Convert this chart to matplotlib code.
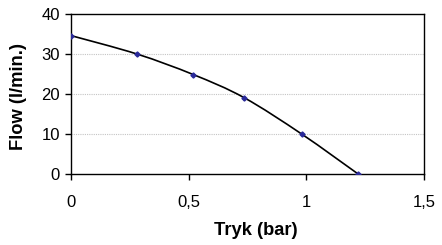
import matplotlib
matplotlib.use("Agg")
import matplotlib.pyplot as plt
import numpy as np
from matplotlib.path import Path
from matplotlib.patches import PathPatch

pressure = [0.0, 0.28, 0.52, 0.735, 0.98, 1.22]
flow = [34.6, 30.0, 24.85, 19.1, 10.0, 0.0]
x_ticks = [0, 0.5, 1, 1.5]
x_tick_labels = ["0", "0,5", "1", "1,5"]
y_ticks = [0, 10, 20, 30, 40]

plt.rcParams['font.family'] = ['Liberation Sans', 'DejaVu Sans']

fig = plt.figure(figsize=(4.42, 2.45), dpi=100)
ax = fig.add_axes([71/442, 1-174/245, (424-71)/442, (174-14)/245])

# smoothed line (Catmull-Rom -> cubic Bezier), like Excel's smoothed line
px = np.array(pressure); py = np.array(flow)
verts = [(px[0], py[0])]
codes = [Path.MOVETO]
n = len(px)
for i in range(n - 1):
    p0 = np.array([px[max(i-1, 0)], py[max(i-1, 0)]])
    p1 = np.array([px[i], py[i]])
    p2 = np.array([px[i+1], py[i+1]])
    p3 = np.array([px[min(i+2, n-1)], py[min(i+2, n-1)]])
    c1 = p1 + (p2 - p0) / 6
    c2 = p2 - (p3 - p1) / 6
    verts += [tuple(c1), tuple(c2), tuple(p2)]
    codes += [Path.CURVE4] * 3
ax.add_patch(PathPatch(Path(verts, codes), facecolor='none', edgecolor='black', lw=1.2, zorder=3))
ax.plot(pressure, flow, linestyle='none', marker='D', markersize=2.6, color='#2a2a9a', zorder=4)

ax.set_xlim(0, 1.5)
ax.set_ylim(0, 40)
ax.set_xticks(x_ticks)
ax.set_xticklabels(x_tick_labels)
ax.set_yticks(y_ticks)
for y in y_ticks[1:-1]:
    ax.axhline(y, color='#c4c4c4', lw=0.8, linestyle=(0, (1, 1)), zorder=1)

for s in ax.spines.values():
    s.set_color('black'); s.set_linewidth(1.0)
ax.tick_params(axis='x', direction='out', length=4, width=1, pad=11, labelsize=12)
ax.tick_params(axis='y', direction='out', length=4, width=1, pad=4, labelsize=12)

fig.text(256/442, 1-230/245, "Tryk (bar)", ha='center', va='center', fontsize=13.2, fontweight='bold')
fig.text(19/442, 1-97/245, "Flow (l/min.)", ha='center', va='center', rotation=90, fontsize=13.2, fontweight='bold')

fig.savefig("out.png", dpi=100)
